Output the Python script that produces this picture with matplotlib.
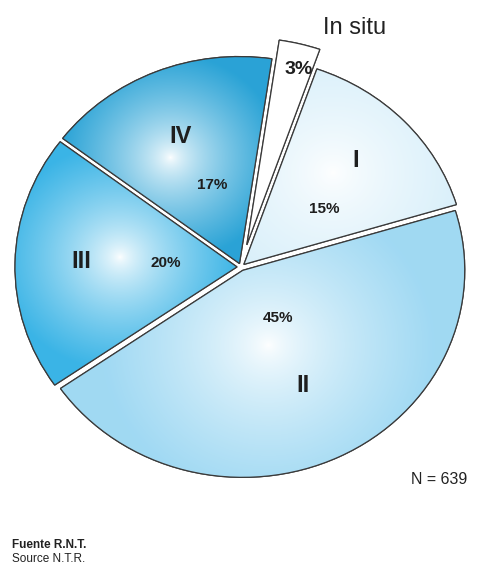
import numpy as np
import matplotlib
matplotlib.use("Agg")
import matplotlib.pyplot as plt
from matplotlib import font_manager
from matplotlib.colors import to_rgb

# ---- data ----
categories = ["In situ", "I", "II", "III", "IV"]
roman = ["", "I", "II", "III", "IV"]
values = [3, 15, 45, 20, 17]
pct_labels = ["3%", "15%", "45%", "20%", "17%"]
n_label = "N = 639"
source_lines = ["Fuente R.N.T.", "Source N.T.R."]

# ---- style ----
edge_colors = ["#ffffff", "#d0ecf9", "#a0d9f3", "#3ab4e6", "#2aa3d6"]
explode = [0.11, 0.018, 0.018, 0.018, 0.018]
name_r = [0, 0.71, 0.62, 0.70, 0.67]
name_da = [0, 1, 0, -1, 1]
pct_r = [0.88, 0.45, 0.28, 0.32, 0.40]
pct_da = [-1.5, -7, 9, -2, -4]
hl_r = [0.5, 0.6, 0.38, 0.53, 0.6]
hl_da = [0, 4, -8, -4, 9]
fall = [1.0, 0.8, 0.75, 0.55, 0.5]

avail = {f.name for f in font_manager.fontManager.ttflist}
narrow = "Liberation Sans Narrow" if "Liberation Sans Narrow" in avail else "Liberation Sans"
fam = [narrow, "DejaVu Sans"]

W, H = 480, 569
fig = plt.figure(figsize=(W / 100, H / 100), dpi=100)
ax = fig.add_axes([0, 0, 1, 1])

wedges, _ = ax.pie(values, explode=explode, startangle=81.6, counterclock=False,
                   colors=edge_colors,
                   wedgeprops=dict(edgecolor="#3a3a3a", linewidth=0.9))

# elliptical layout: x unit = 222 px, y unit = 207 px, centre at (241, 267) px
cx, cy, rx, ry = 241, 267, 222, 207
ax.set_aspect("auto")
ax.set_xlim(-cx / rx, (W - cx) / rx)
ax.set_ylim(-(H - cy) / ry, cy / ry)
ax.axis("off")

xl = ax.get_xlim(); yl = ax.get_ylim()
gx = np.linspace(xl[0], xl[1], 480)
gy = np.linspace(yl[0], yl[1], 569)
GX, GY = np.meshgrid(gx, gy)

for i, w in enumerate(wedges):
    th = np.deg2rad((w.theta1 + w.theta2) / 2)
    c0 = np.array(w.center)
    a = th + np.deg2rad(hl_da[i])
    hx, hy = c0[0] + hl_r[i] * np.cos(a), c0[1] + hl_r[i] * np.sin(a)
    d = np.sqrt((GX - hx) ** 2 + (GY - hy) ** 2)
    t = np.clip(d / fall[i], 0, 1) ** 0.7
    col = np.array(to_rgb(edge_colors[i]))
    img = (1 - t)[..., None] * np.ones(3) + t[..., None] * col
    im = ax.imshow(img, extent=(xl[0], xl[1], yl[0], yl[1]), origin="lower",
                   aspect="auto", zorder=w.get_zorder() + 0.1, interpolation="bilinear")
    im.set_clip_path(w)
    # outline on top
    w2 = matplotlib.patches.Wedge(w.center, w.r, w.theta1, w.theta2, facecolor="none",
                                  edgecolor="#3a3a3a", linewidth=0.9, zorder=w.get_zorder() + 0.2)
    ax.add_patch(w2)

    if roman[i]:
        a = th + np.deg2rad(name_da[i])
        ax.text(c0[0] + name_r[i] * np.cos(a), c0[1] + name_r[i] * np.sin(a), roman[i],
                ha="center", va="center", fontsize=17, fontweight="bold", family=fam,
                color="#1e1e1e", zorder=10)
    a = th + np.deg2rad(pct_da[i])
    ax.text(c0[0] + pct_r[i] * np.cos(a), c0[1] + pct_r[i] * np.sin(a), pct_labels[i],
            ha="center", va="center", fontsize=14 if i == 0 else 11, fontweight="bold",
            family=fam, color="#1e1e1e", zorder=10)

fig.text(355 / W, 1 - 28 / H, categories[0], ha="center", va="center", fontsize=17,
         family=fam, color="#222222")
fig.text(439 / W, 1 - 480 / H, n_label, ha="center", va="center", fontsize=11.5,
         family=fam, color="#222222")
fig.text(12 / W, 1 - 545 / H, source_lines[0], ha="left", va="center", fontsize=8.5,
         fontweight="bold", family=fam, color="#222222")
fig.text(12 / W, 1 - 559 / H, source_lines[1], ha="left", va="center", fontsize=8.5,
         family=fam, color="#222222")

fig.savefig("out.png", dpi=100)
